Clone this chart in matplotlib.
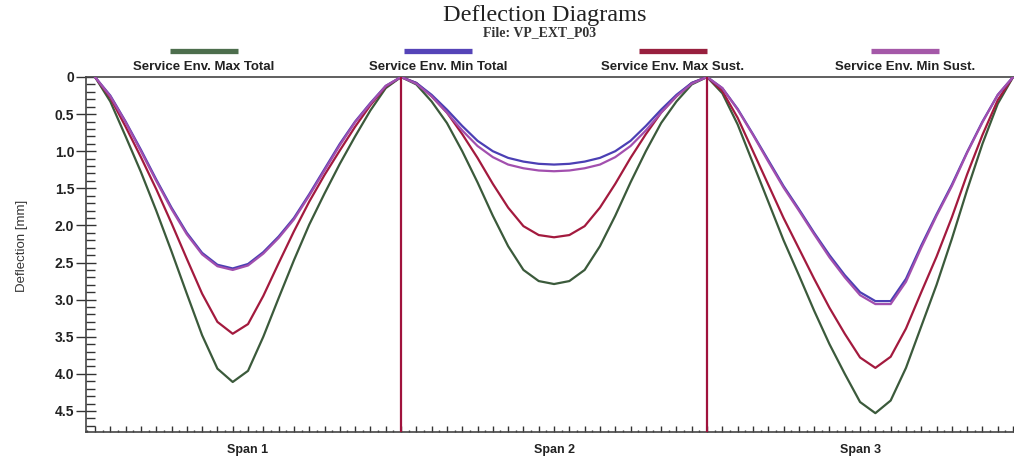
import numpy as np
import matplotlib
matplotlib.use("Agg")
import matplotlib.pyplot as plt
from matplotlib.lines import Line2D
from matplotlib.ticker import MultipleLocator, FixedLocator

# Stations along each span (fraction of span length)
stations = [0.00, 0.05, 0.10, 0.15, 0.20, 0.25, 0.30, 0.35, 0.40, 0.45, 0.50,
            0.55, 0.60, 0.65, 0.70, 0.75, 0.80, 0.85, 0.90, 0.95, 1.00]

span_labels = ["Span 1", "Span 2", "Span 3"]

series_names = ["Service Env. Max Total", "Service Env. Min Total",
                "Service Env. Max Sust.", "Service Env. Min Sust."]

# Deflections [mm] per span, one value per station
max_total = [
    [0, 0.33, 0.80, 1.28, 1.80, 2.35, 2.92, 3.48, 3.93, 4.11, 3.96, 3.50, 2.98, 2.47, 1.99, 1.57, 1.17, 0.80, 0.45, 0.15, 0],
    [0, 0.10, 0.33, 0.62, 1.00, 1.42, 1.87, 2.28, 2.60, 2.75, 2.79, 2.75, 2.60, 2.28, 1.87, 1.42, 1.00, 0.62, 0.33, 0.10, 0],
    [0, 0.22, 0.64, 1.16, 1.68, 2.20, 2.67, 3.15, 3.60, 4.00, 4.38, 4.53, 4.36, 3.92, 3.36, 2.80, 2.18, 1.52, 0.90, 0.36, 0],
]
min_total = [
    [0, 0.25, 0.60, 0.98, 1.38, 1.76, 2.10, 2.37, 2.53, 2.58, 2.52, 2.36, 2.15, 1.90, 1.58, 1.24, 0.90, 0.60, 0.35, 0.12, 0],
    [0, 0.08, 0.24, 0.44, 0.66, 0.86, 1.00, 1.09, 1.14, 1.17, 1.18, 1.17, 1.14, 1.09, 1.00, 0.86, 0.66, 0.44, 0.24, 0.08, 0],
    [0, 0.15, 0.43, 0.77, 1.12, 1.47, 1.78, 2.10, 2.40, 2.67, 2.90, 3.02, 3.02, 2.72, 2.27, 1.85, 1.45, 1.01, 0.60, 0.24, 0],
]
max_sust = [
    [0, 0.28, 0.67, 1.08, 1.51, 1.97, 2.45, 2.92, 3.30, 3.46, 3.33, 2.95, 2.51, 2.08, 1.68, 1.32, 0.99, 0.67, 0.38, 0.13, 0],
    [0, 0.08, 0.26, 0.48, 0.77, 1.09, 1.44, 1.76, 2.01, 2.13, 2.16, 2.13, 2.01, 1.76, 1.44, 1.09, 0.77, 0.48, 0.26, 0.08, 0],
    [0, 0.19, 0.55, 1.00, 1.45, 1.90, 2.31, 2.72, 3.11, 3.46, 3.78, 3.92, 3.77, 3.39, 2.90, 2.42, 1.89, 1.31, 0.78, 0.31, 0],
]
min_sust = [
    [0, 0.26, 0.61, 1.00, 1.40, 1.78, 2.12, 2.39, 2.55, 2.60, 2.54, 2.38, 2.17, 1.92, 1.60, 1.26, 0.92, 0.61, 0.36, 0.12, 0],
    [0, 0.09, 0.26, 0.48, 0.72, 0.93, 1.08, 1.18, 1.23, 1.26, 1.27, 1.26, 1.23, 1.18, 1.08, 0.93, 0.72, 0.48, 0.26, 0.09, 0],
    [0, 0.15, 0.44, 0.78, 1.14, 1.49, 1.80, 2.12, 2.43, 2.70, 2.94, 3.06, 3.06, 2.76, 2.30, 1.87, 1.47, 1.02, 0.61, 0.24, 0],
]

y_ticks = [0, 0.5, 1.0, 1.5, 2.0, 2.5, 3.0, 3.5, 4.0, 4.5]
y_tick_labels = ["0", "0.5", "1.0", "1.5", "2.0", "2.5", "3.0", "3.5", "4.0", "4.5"]

series = [max_total, min_total, max_sust, min_sust]
line_colors = ["#3b5a3b", "#4b3fb4", "#a31a3e", "#a24fae"]
bar_colors = ["#4d6e4d", "#5544b8", "#98203e", "#a458a8"]
support_color = "#a0123c"

plt.rcParams["font.family"] = ["Liberation Sans", "DejaVu Sans"]

fig = plt.figure(figsize=(10.14, 4.57), dpi=100)
W, H = 1014, 457
left_px, right_px, top_px, bottom_px = 86, 1014, 77, 432
ax = fig.add_axes([left_px / W, 1 - bottom_px / H,
                   (right_px - left_px) / W, (bottom_px - top_px) / H])

# Draw order: Min Total under Min Sust, Max Sust, Max Total
order = [0, 2, 1, 3]
for k in order:
    for s in range(3):
        xs = [s + f for f in stations]
        ax.plot(xs, series[k][s], color=line_colors[k], lw=1.6,
                solid_joinstyle="round", zorder=3)

# Interior supports
for xs in (1, 2):
    ax.axvline(xs, color=support_color, lw=1.6, zorder=4)

ax.set_xlim(-0.0294, 3.003)
ax.set_ylim(4.784, 0)

ax.spines["right"].set_visible(False)
for sp in ("top", "left", "bottom"):
    ax.spines[sp].set_color("#444444")
    ax.spines[sp].set_linewidth(1.2)

ax.yaxis.set_major_locator(FixedLocator(y_ticks))
ax.set_yticklabels(y_tick_labels, fontsize=10, fontweight="bold", color="#222222")
ax.yaxis.set_minor_locator(MultipleLocator(0.1))
ax.tick_params(axis="y", which="major", direction="inout", length=15,
               width=1.0, color="#333333", pad=1)
ax.tick_params(axis="y", which="minor", direction="in", length=6.5,
               width=1.0, color="#333333")

ax.xaxis.set_major_locator(MultipleLocator(0.05))
ax.xaxis.set_minor_locator(MultipleLocator(0.025))
ax.tick_params(axis="x", which="major", direction="in", length=4.5,
               width=1.0, color="#333333", labelbottom=False)
ax.tick_params(axis="x", which="minor", direction="in", length=1.8,
               width=1.0, color="#333333")

for s, lab in enumerate(span_labels):
    ax.text(s + 0.5, -0.033, lab, transform=ax.get_xaxis_transform(),
            ha="center", va="top", fontsize=9, fontweight="bold", color="#222222")

ax.set_ylabel("Deflection [mm]", fontsize=9.5, color="#333333")
ax.yaxis.set_label_coords(-0.062, 0.525)

# Title block
fig.text(545 / W, 1 - 16 / H, "Deflection Diagrams", family="Liberation Serif",
         fontsize=17.5, ha="center", va="center", color="#222222")
fig.text(540 / W, 1 - 33 / H, "File: VP_EXT_P03", family="Liberation Serif",
         fontsize=10, fontweight="bold", ha="center", va="center", color="#333333")

# Legend entries: swatch bar above each label
legend_centers = [204, 438, 673, 905]
for cx, name, bc in zip(legend_centers, series_names, bar_colors):
    fig.add_artist(Line2D([(cx - 34) / W, (cx + 34) / W], [1 - 51 / H, 1 - 51 / H],
                          color=bc, lw=3.8, solid_capstyle="butt"))
    fig.text(cx / W, 1 - 67 / H, name, fontsize=9.5, fontweight="bold",
             ha="center", va="center", color="#222222")

fig.savefig("out.png", dpi=100)
